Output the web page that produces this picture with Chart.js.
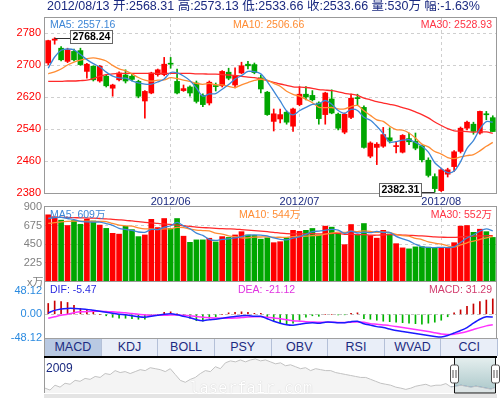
<!DOCTYPE html>
<html>
<head>
<meta charset="utf-8">
<script src="https://cdn.jsdelivr.net/npm/chart.js@4.4.1/dist/chart.umd.min.js"></script>
<style>
  body { margin: 0; background: #fff; }
  #wrap { position: relative; width: 500px; height: 398px; overflow: hidden;
          font-family: "Liberation Sans", Arial, "Noto Sans CJK SC", sans-serif; }
  canvas { position: absolute; left: 0; }
  .txt { position: absolute; white-space: nowrap; font-size: 10.5px; line-height: 12px; }
  .r { text-align: right; }
  #tabs { position: absolute; left: 44px; top: 338px; width: 453px; height: 17px; display: flex;
          border-top: 1px solid #a0a0a0; border-left: 1px solid #999; box-sizing: content-box; }
  #tabs div { flex: 1; background: #e9eef8; border-right: 1px solid #b4c0d8; text-align: center;
              font-size: 12.5px; line-height: 17px; color: #1b2a80; }
  #tabs div.on { background: #b9c9e2; }
</style>
</head>
<body>
<div id="wrap">
  <canvas id="priceChart" width="500" height="207" style="top:0"></canvas>
  <canvas id="volChart" width="500" height="84" style="top:197px"></canvas>
  <canvas id="macdChart" width="500" height="76" style="top:272px"></canvas>
  <canvas id="navChart" width="500" height="41" style="top:357px"></canvas>

  <div class="txt" style="left:47px;top:-1px;font-size:12.5px;line-height:14px;color:#1b2a80">2012/08/13 开:2568.31 高:2573.13 低:2533.66 收:2533.66 量:530万 幅:-1.63%</div>

  <div class="txt" style="left:50px;top:18px;color:#3d86d6">MA5: 2557.16</div>
  <div class="txt" style="left:233px;top:18px;color:#ff8c33">MA10: 2506.66</div>
  <div class="txt r" style="right:8px;top:18px;color:#ff3344">MA30: 2528.93</div>

  <div class="txt" style="left:50px;top:208px;color:#3d86d6">MA5: 609万</div>
  <div class="txt" style="left:239px;top:208px;color:#ff8c33">MA10: 544万</div>
  <div class="txt r" style="right:8px;top:208px;color:#ff3344">MA30: 552万</div>
  <div class="txt" style="left:27px;top:276px;color:#808080;font-size:11px">x万</div>

  <div class="txt" style="left:50px;top:283px;color:#2a2ae0">DIF: -5.47</div>
  <div class="txt" style="left:238px;top:283px;color:#e033e0">DEA: -21.12</div>
  <div class="txt r" style="right:8px;top:283px;color:#d23c6e">MACD: 31.29</div>

  <div id="tabs">
    <div class="on">MACD</div><div>KDJ</div><div>BOLL</div><div>PSY</div>
    <div>OBV</div><div>RSI</div><div>WVAD</div><div>CCI</div>
  </div>
  <div style="position:absolute;left:44px;top:356px;width:453px;height:2px;background:#000"></div>
  <div style="position:absolute;left:44px;top:394px;width:453px;height:4px;background:#e4e4e4"></div>
  <div class="txt" style="left:46px;top:361px;font-size:12px;line-height:14px;color:#1b2a80">2009</div>
  <div class="txt" style="left:190px;top:380px;font-family:'DejaVu Sans Mono',monospace;font-size:15px;line-height:16px;color:#fff;letter-spacing:0.4px;text-shadow:0 0 1px #bbb">laserfair.com</div>
</div>

<script>
// trading days shown, 2012/05/07 .. 2012/08/13
const dates = [
  "05/07","05/08","05/09","05/10","05/11","05/14","05/15","05/16","05/17","05/18",
  "05/21","05/22","05/23","05/24","05/25","05/28","05/29","05/30","05/31","06/01",
  "06/04","06/05","06/06","06/07","06/08","06/11","06/12","06/13","06/14","06/15",
  "06/18","06/19","06/20","06/21","06/25","06/26","06/27","06/28","06/29","07/02",
  "07/03","07/04","07/05","07/06","07/09","07/10","07/11","07/12","07/13","07/16",
  "07/17","07/18","07/19","07/20","07/23","07/24","07/25","07/26","07/27","07/30",
  "07/31","08/01","08/02","08/03","08/06","08/07","08/08","08/09","08/10","08/13"
];

const opens = [
  2705, 2762, 2742, 2709, 2734, 2736, 2684, 2697, 2660, 2672,
  2642, 2663, 2675, 2672, 2659, 2610, 2630, 2676, 2676, 2704,
  2659, 2636, 2645, 2655, 2624, 2605, 2648, 2648, 2682, 2650,
  2680, 2702, 2701, 2668, 2632, 2559, 2565, 2582, 2547, 2601,
  2627, 2624, 2605, 2576, 2615, 2577, 2532, 2569, 2618, 2594,
  2472, 2494, 2497, 2518, 2496, 2482, 2516, 2509, 2498, 2462,
  2421, 2386, 2427, 2446, 2484, 2542, 2552, 2530, 2578, 2568.31
];
const highs = [
  2762, 2768.24, 2746, 2742, 2740, 2742, 2704, 2698, 2699, 2675,
  2652, 2683, 2688, 2678, 2662, 2636, 2682, 2690, 2719, 2719,
  2690, 2650, 2648, 2660, 2628, 2660, 2655, 2686, 2692, 2693,
  2707, 2709, 2705, 2675, 2634, 2590, 2590, 2585, 2592, 2646,
  2646, 2636, 2608, 2632, 2638, 2580, 2580, 2627, 2627, 2598,
  2508, 2506, 2544, 2543, 2509, 2526, 2530, 2530, 2500, 2468,
  2428, 2442, 2442, 2486, 2545, 2560, 2557, 2585, 2584, 2573.13
];
const lows = [
  2700, 2752, 2710, 2706, 2710, 2699, 2667, 2660, 2657, 2645,
  2622, 2660, 2655, 2660, 2618, 2567, 2628, 2672, 2673, 2692,
  2628, 2634, 2622, 2605, 2596, 2600, 2635, 2645, 2663, 2643,
  2678, 2690, 2678, 2630, 2574, 2535, 2555, 2552, 2534, 2598,
  2613, 2610, 2552, 2552, 2578, 2538, 2528, 2566, 2599, 2492,
  2468, 2451, 2494, 2505, 2480, 2480, 2501, 2488, 2458, 2420,
  2382.31, 2383.5, 2420, 2434, 2480, 2538, 2527, 2527, 2563, 2533.66
];
const closes = [
  2761, 2765, 2713, 2738, 2713, 2701, 2702, 2663, 2697, 2648,
  2650, 2680, 2660, 2664, 2622, 2634, 2680, 2688, 2702, 2702,
  2630, 2641, 2630, 2609, 2601, 2657, 2646, 2684, 2667, 2672,
  2698, 2698, 2681, 2640, 2576, 2578, 2576, 2557, 2590, 2627,
  2620, 2613, 2566, 2630, 2580, 2542, 2577, 2617, 2616, 2494,
  2505, 2502, 2526, 2510, 2498, 2524, 2508, 2492, 2463, 2424,
  2391, 2438, 2438, 2483, 2542, 2557, 2534, 2584, 2575.6, 2533.66
];

const ma5 = [
  2692, 2720, 2737, 2740, 2738, 2726, 2713.4, 2703.4, 2695.2, 2682.2,
  2672, 2667.6, 2667, 2660.4, 2655.2, 2652, 2652, 2657.6, 2665.2, 2681.2,
  2680.4, 2672.6, 2661, 2642.4, 2622.2, 2627.6, 2628.6, 2639.4, 2651, 2665.2,
  2673.4, 2683.8, 2683.2, 2677.8, 2658.6, 2634.6, 2610.2, 2585.4, 2575.4, 2585.6,
  2594, 2601.4, 2603.2, 2611.2, 2601.8, 2586.2, 2579, 2589.2, 2586.4, 2569.2,
  2561.8, 2546.8, 2528.6, 2507.4, 2508.2, 2512, 2513.2, 2506.4, 2497, 2482.2,
  2455.6, 2441.6, 2430.8, 2434.8, 2458.4, 2491.6, 2510.8, 2540, 2558.5, 2557.16
];
const ma10 = [
  2678, 2683, 2690, 2700, 2707, 2712, 2716, 2718, 2715, 2710.1,
  2699, 2690.5, 2685.2, 2677.8, 2668.7, 2662, 2659.8, 2662.3, 2662.8, 2668.2,
  2666.2, 2662.3, 2659.3, 2653.8, 2651.7, 2654, 2650.6, 2650.2, 2646.7, 2643.7,
  2650.5, 2656.2, 2661.3, 2664.4, 2661.9, 2654, 2647, 2634.3, 2626.6, 2622.1,
  2614.3, 2605.8, 2594.3, 2593.3, 2593.7, 2590.1, 2590.2, 2596.2, 2598.8, 2585.5,
  2574, 2562.9, 2558.9, 2546.9, 2538.7, 2536.9, 2530, 2517.5, 2502.2, 2495.2,
  2483.8, 2477.4, 2468.6, 2465.9, 2470.3, 2473.6, 2476.2, 2485.4, 2496.7, 2506.66
];
const ma30 = [
  2659, 2659, 2659, 2660, 2660, 2661, 2662, 2666, 2672, 2676,
  2678, 2679, 2679, 2679, 2679, 2679, 2679, 2679, 2679, 2679,
  2679, 2679, 2679, 2678, 2678, 2677, 2677, 2676, 2675, 2674,
  2671.9, 2669.7, 2668.6, 2665.3, 2660.8, 2656.7, 2652.5, 2649, 2645.4, 2644.7,
  2643.7, 2641.5, 2638.4, 2637.2, 2635.8, 2632.8, 2629.3, 2627, 2624.1, 2617.2,
  2613, 2608.4, 2604.9, 2601.6, 2598.2, 2593.7, 2589.1, 2582.7, 2575.9, 2567.7,
  2557.4, 2548.8, 2540.7, 2535.4, 2534.3, 2533.6, 2532.1, 2533, 2532.6, 2528.93
];

// volume, in 万
const volumes = [
  805, 780, 740, 675, 735, 690, 750, 730, 680, 640,
  580, 570, 665, 625, 540, 560, 750, 650, 760, 640,
  760, 545, 470, 500, 500, 520, 475, 540, 530, 560,
  600, 560, 554, 509, 525, 466, 478, 525, 616, 604,
  616, 639, 560, 667, 655, 576, 442, 687, 560, 699,
  554, 521, 616, 572, 454, 403, 391, 415, 419, 411,
  399, 407, 399, 466, 667, 675, 592, 630, 600, 530
];
const volMa5 = [
  760, 770, 775, 760, 747, 724, 718, 716, 717, 698,
  676, 640, 627, 616, 596, 592, 628, 625, 652, 672,
  712, 671, 635, 583, 555, 507, 493, 507, 513, 525,
  541, 558, 561, 557, 550, 523, 506, 501, 522, 538,
  568, 600, 607, 617, 627, 619, 580, 605, 584, 593,
  588, 604, 590, 592, 543, 513, 487, 447, 416, 408,
  407, 410, 407, 416, 468, 523, 560, 606, 633, 609
];
const volMa10 = [
  700, 710, 720, 725, 728, 728, 727, 726, 724, 722.5,
  700, 679, 671.5, 666.5, 647, 634, 634, 626, 634, 634,
  652, 649.5, 630, 617.5, 613.5, 609.5, 582, 571, 548, 540,
  524, 525.5, 534, 535, 537, 532, 532, 531, 539, 544,
  545, 553, 554, 570, 583, 594, 590, 606, 601, 610,
  604, 592, 598, 588, 568, 551, 546, 518.5, 504, 476,
  460, 449, 427, 416, 438, 465, 485, 506.5, 525, 544
];
const volMa30 = [
  775, 775, 774, 772, 770, 768, 766, 764, 760, 756,
  750, 744, 738, 730, 722, 714, 708, 700, 694, 688,
  680, 672, 664, 656, 650, 645, 640, 636, 634, 632,
  625.3, 618, 611.8, 606.3, 599.3, 591.8, 582.7, 575.9, 573.8, 572.6,
  573.8, 576.1, 572.6, 574, 577.8, 578.3, 568.1, 569.3, 562.6, 564.6,
  557.7, 556.9, 561.8, 564.2, 562.7, 558.8, 556, 551.8, 548.1, 543.1,
  536, 533, 530, 530, 536, 542, 546, 549, 550, 552
];

// MACD(12,26,9)
const dif = [
  3, 8, 11, 12, 12, 11, 10, 8, 6, 4,
  2, 0, -1, -3, -5, -6, -4, -2, 0, 1,
  -1, -4, -7, -11, -13, -11, -10, -8, -6, -4.5,
  -3, -2.5, -4, -4, -9, -14, -18, -21, -22, -20,
  -18, -17, -18, -16, -16, -17, -17, -15, -14, -19,
  -22, -25, -27, -30, -33, -35, -37, -39, -41, -43,
  -45, -46, -43, -38, -33, -27, -18, -10, -5, -5.47
];
const dea = [
  -8, -5, -2, 0, 3, 5, 5.5, 6, 6, 5.5,
  5, 4, 3, 1.5, 0, -1, -2, -2, -2, -1.5,
  -1.5, -2, -3, -4.5, -6, -7, -7.5, -8, -8, -7.5,
  -6.5, -5.5, -5, -5, -6, -7.5, -9, -11, -13, -14,
  -15, -15.5, -16, -16, -16, -16.5, -16.5, -16, -15.5, -16,
  -19, -20, -21.5, -23, -25, -27, -29, -31, -33, -35,
  -37.5, -40, -41, -40.5, -38, -35, -31, -27, -23.5, -21.12
];
const macdHist = [
  22, 27, 26, 24, 18, 12, 9, 4, 0, -3,
  -6, -8, -8, -9, -10, -10, -4, 0, 4, 5,
  1, -4, -8, -13, -14, -8, -5, 0, 3, 4,
  5, 4, 2, 2, -6, -13, -18, -20, -18, -12,
  -6, -3, -4, 0, 0, -1, -1, 2, 3, -9,
  -10, -12, -14, -15, -16, -17, -18, -19, -20, -18,
  -16, -12, -5, 3, 9, 16, 21, 26, 29, 31.29
];

const priceTicks = [2380, 2460, 2540, 2620, 2700, 2780];
const volTicks = [225, 450, 675, 900];
const macdTicks = [-48.12, 0, 48.12];
const monthTickIdx = [19, 39, 61];
const monthTickText = ["2012/06", "2012/07", "2012/08"];

// long history overview (2009 .. 2012/08)
const navHistory = [
  2278, 2167, 2445, 2334, 2556, 2500, 2722, 2667, 2834, 2778,
  2945, 2890, 3112, 3056, 3279, 3168, 3223, 3112, 3223, 3334,
  3279, 3446, 3390, 3334, 3223, 3390, 3056, 2722, 2612, 2778,
  2890, 3112, 3279, 3223, 3501, 3390, 3724, 3835, 3779, 3890,
  3779, 3890, 3946, 3835, 3890, 3779, 3668, 3724, 3557, 3612,
  3501, 3390, 3446, 3279, 3390, 3334, 3279, 3279, 3168, 3112,
  3056, 3001, 2945, 2890, 2890, 2778, 2667, 2556, 2500, 2445,
  2334, 2278, 2206, 2278, 2389, 2445, 2500, 2389, 2445, 2445,
  2539, 2350, 2389, 2445, 2389, 2334, 2389, 2334, 2278, 2223, 2334
];
const navWindowStart = 81.6;

// ---- styles
const UP = "#ff0000";
const DOWN = "#00a600";
const GRID = "#cfcfcf";
const NAVY = "#1b2a80";
const NONE = "rgba(0,0,0,0)";
const MA5C = "#3d86d6", MA10C = "#ff8c33", MA30C = "#ff2a2a";

Chart.defaults.font.family = '"Liberation Sans", Arial, sans-serif';

const candleColors = closes.map((c, i) => (c >= opens[i] ? UP : DOWN));

const fixY = w => s => { s.width = w; s.paddingTop = 0; s.paddingBottom = 0; };
const fixX = h => s => { s.height = h; s.paddingLeft = 0; s.paddingRight = 0; };
const monthGrid = c => (monthTickIdx.includes(c.index) ? GRID : NONE);

// gray frame round each plot area
const frame = {
  id: "frame",
  afterDraw(chart) {
    const { ctx, chartArea: a } = chart;
    ctx.save();
    ctx.strokeStyle = "#999";
    ctx.lineWidth = 1;
    ctx.strokeRect(Math.round(a.left) - 0.5, Math.round(a.top) - 0.5,
                   Math.round(a.width) + 1, Math.round(a.height) + 1);
    ctx.restore();
  }
};

// boxed labels at highest high and lowest low
const extremeLabels = {
  id: "extremeLabels",
  afterDraw(chart) {
    const { ctx, scales: { x, y } } = chart;
    const iMax = highs.indexOf(Math.max(...highs));
    const iMin = lows.indexOf(Math.min(...lows));
    ctx.save();
    ctx.font = 'bold 10.5px "Liberation Sans", Arial';
    ctx.textBaseline = "middle";
    const box = (i, val, side, dy) => {
      const px = x.getPixelForValue(i);
      const py = Math.round(y.getPixelForValue(val)) + 0.5;
      const text = val.toFixed(2);
      const w = Math.round(ctx.measureText(text).width) + 4, h = 13;
      const bx = Math.round(side > 0 ? px + 15 : px - 14 - w) + 0.5;
      const by = Math.round(py - dy) + 0.5;
      ctx.strokeStyle = "#333";
      ctx.lineWidth = 1;
      ctx.beginPath();
      ctx.moveTo(px, py);
      ctx.lineTo(side > 0 ? bx : bx + w, py);
      ctx.stroke();
      ctx.fillStyle = "#fff";
      ctx.fillRect(bx, by, w, h);
      ctx.strokeStyle = "#666";
      ctx.strokeRect(bx, by, w, h);
      ctx.fillStyle = "#000";
      ctx.fillText(text, bx + 2, by + h / 2 + 0.5);
    };
    box(iMax, highs[iMax], 1, 8.5);
    box(iMin, lows[iMin], -1, 10);
    ctx.restore();
  }
};

// price panel
new Chart(document.getElementById("priceChart"), {
  type: "bar",
  data: {
    labels: dates,
    datasets: [
      { type: "line", data: ma5, borderColor: MA5C, borderWidth: 1.3, pointRadius: 0, tension: 0.3, order: 0 },
      { type: "line", data: ma10, borderColor: MA10C, borderWidth: 1.3, pointRadius: 0, tension: 0.3, order: 0 },
      { type: "line", data: ma30, borderColor: MA30C, borderWidth: 1.3, pointRadius: 0, tension: 0.3, order: 0 },
      { data: opens.map((o, i) => [o, closes[i]]), backgroundColor: candleColors,
        barThickness: 5, grouped: false, minBarLength: 1, order: 1 },
      { data: lows.map((l, i) => [l, highs[i]]), backgroundColor: candleColors,
        barThickness: 1, grouped: false, order: 2 }
    ]
  },
  options: {
    responsive: false, animation: false, devicePixelRatio: 1,
    layout: { padding: { top: 18, right: 4, left: 0, bottom: 0 } },
    plugins: { legend: { display: false }, tooltip: { enabled: false } },
    scales: {
      x: {
        offset: true, afterFit: fixX(14),
        grid: { offset: false, drawTicks: false, color: monthGrid },
        border: { display: false, dash: [3, 3] },
        ticks: {
          autoSkip: false, maxRotation: 0, padding: 2, color: NAVY, font: { size: 11 },
          callback: (v, i) => { const k = monthTickIdx.indexOf(i); return k >= 0 ? monthTickText[k] : ""; }
        }
      },
      y: {
        min: 2380, max: 2817.5, afterFit: fixY(45),
        afterBuildTicks: s => { s.ticks = priceTicks.map(v => ({ value: v })); },
        grid: { drawTicks: false, color: c => (c.tick && c.tick.value > priceTicks[0] ? GRID : NONE) },
        border: { display: false, dash: [3, 3] },
        ticks: { padding: 4, color: "#ff0000", font: { size: 11 }, callback: v => String(v) }
      }
    }
  },
  plugins: [frame, extremeLabels]
});

// volume panel
new Chart(document.getElementById("volChart"), {
  type: "bar",
  data: {
    labels: dates,
    datasets: [
      { type: "line", data: volMa5, borderColor: MA5C, borderWidth: 1.3, pointRadius: 0, tension: 0.3, order: 0 },
      { type: "line", data: volMa10, borderColor: MA10C, borderWidth: 1.3, pointRadius: 0, tension: 0.3, order: 0 },
      { type: "line", data: volMa30, borderColor: MA30C, borderWidth: 1.3, pointRadius: 0, tension: 0.3, order: 0 },
      { data: volumes, backgroundColor: candleColors, barThickness: 5, grouped: false, order: 1 }
    ]
  },
  options: {
    responsive: false, animation: false, devicePixelRatio: 1,
    layout: { padding: { top: 10, right: 4, left: 0, bottom: 0 } },
    plugins: { legend: { display: false }, tooltip: { enabled: false } },
    scales: {
      x: {
        offset: true, afterFit: fixX(0),
        grid: { offset: false, drawTicks: false, color: monthGrid },
        border: { display: false, dash: [3, 3] },
        ticks: { display: false }
      },
      y: {
        min: 0, max: 900, afterFit: fixY(45),
        afterBuildTicks: s => { s.ticks = volTicks.map(v => ({ value: v })); },
        grid: { drawTicks: false, color: c => (c.tick && c.tick.value < 900 ? GRID : NONE) },
        border: { display: false, dash: [3, 3] },
        ticks: { padding: 3, color: "#808080", font: { size: 11 }, callback: v => String(v) }
      }
    }
  },
  plugins: [frame]
});

// MACD panel
new Chart(document.getElementById("macdChart"), {
  type: "bar",
  data: {
    labels: dates,
    datasets: [
      { type: "line", data: dif, borderColor: "#1a1aff", borderWidth: 1.5, pointRadius: 0, tension: 0.2, order: 0 },
      { type: "line", data: dea, borderColor: "#ff30ff", borderWidth: 1.5, pointRadius: 0, tension: 0.2, order: 0 },
      { data: macdHist, backgroundColor: macdHist.map(v => (v >= 0 ? "#c80000" : "#00b400")),
        barThickness: 1, grouped: false, order: 1 }
    ]
  },
  options: {
    responsive: false, animation: false, devicePixelRatio: 1,
    layout: { padding: { top: 10, right: 4, left: 0, bottom: 0 } },
    plugins: { legend: { display: false }, tooltip: { enabled: false } },
    scales: {
      x: {
        offset: true, afterFit: fixX(10),
        grid: { display: false },
        border: { display: false },
        ticks: { display: false }
      },
      y: {
        min: -48.12, max: 65.6, afterFit: fixY(45),
        afterBuildTicks: s => { s.ticks = macdTicks.map(v => ({ value: v })); },
        grid: { drawTicks: false, color: c => (c.tick && c.tick.value === 0 ? "#c4c4c4" : NONE) },
        border: { display: false, dash: [3, 3] },
        ticks: { padding: 3, color: "#2a8ae0", font: { size: 11 }, callback: v => v.toFixed(2) }
      }
    }
  },
  plugins: [frame]
});

// navigator window: shaded range plus drag handles
const navWindow = {
  id: "navWindow",
  beforeDatasetsDraw(chart) {
    const { ctx, chartArea: a, scales: { x } } = chart;
    const x0 = Math.round(x.getPixelForValue(navWindowStart));
    const g = ctx.createLinearGradient(0, a.top, 0, a.bottom);
    g.addColorStop(0, "#e4eeee");
    g.addColorStop(1, "#a9c6c8");
    ctx.save();
    ctx.fillStyle = g;
    ctx.fillRect(x0, a.top, a.right - x0, a.bottom - a.top);
    ctx.restore();
  },
  afterDraw(chart) {
    const { ctx, chartArea: a, scales: { x } } = chart;
    const x0 = Math.round(x.getPixelForValue(navWindowStart)) + 0.5;
    const x1 = Math.round(a.right) - 0.5;
    ctx.save();
    ctx.strokeStyle = "#999";
    ctx.beginPath();
    ctx.moveTo(44.5, a.top); ctx.lineTo(44.5, a.bottom);
    ctx.stroke();
    ctx.strokeStyle = "#111";
    ctx.lineWidth = 1;
    ctx.beginPath();
    ctx.moveTo(x0, a.top); ctx.lineTo(x0, a.bottom); ctx.lineTo(x1, a.bottom); ctx.lineTo(x1, a.top);
    ctx.stroke();
    [x0, x1].forEach(hx => {
      ctx.fillStyle = "#fff";
      ctx.strokeStyle = "#555";
      ctx.beginPath();
      ctx.roundRect(hx - 4, a.top + 7, 8, 18, 2);
      ctx.fill();
      ctx.stroke();
      ctx.beginPath();
      ctx.moveTo(hx - 1.5, a.top + 12); ctx.lineTo(hx - 1.5, a.top + 20);
      ctx.moveTo(hx + 1.5, a.top + 12); ctx.lineTo(hx + 1.5, a.top + 20);
      ctx.stroke();
    });
    ctx.restore();
  }
};

new Chart(document.getElementById("navChart"), {
  type: "line",
  data: {
    labels: navHistory.map((_, k) => k),
    datasets: [
      { data: navHistory, borderColor: "#c2c2c2", borderWidth: 1, pointRadius: 0,
        fill: "start", backgroundColor: "rgba(240,240,240,0.7)", tension: 0 },
      { data: navHistory.map((v, k) => (k >= Math.floor(navWindowStart) ? v : null)),
        borderColor: "#4a8cc4", borderWidth: 1, pointRadius: 0, tension: 0 }
    ]
  },
  options: {
    responsive: false, animation: false, devicePixelRatio: 1,
    layout: { padding: { top: 1, right: 4, left: 45, bottom: 5 } },
    plugins: { legend: { display: false }, tooltip: { enabled: false } },
    scales: {
      x: { display: false, offset: false },
      y: { display: false, min: 2000, max: 4000 }
    }
  },
  plugins: [navWindow]
});
</script>
</body>
</html>
